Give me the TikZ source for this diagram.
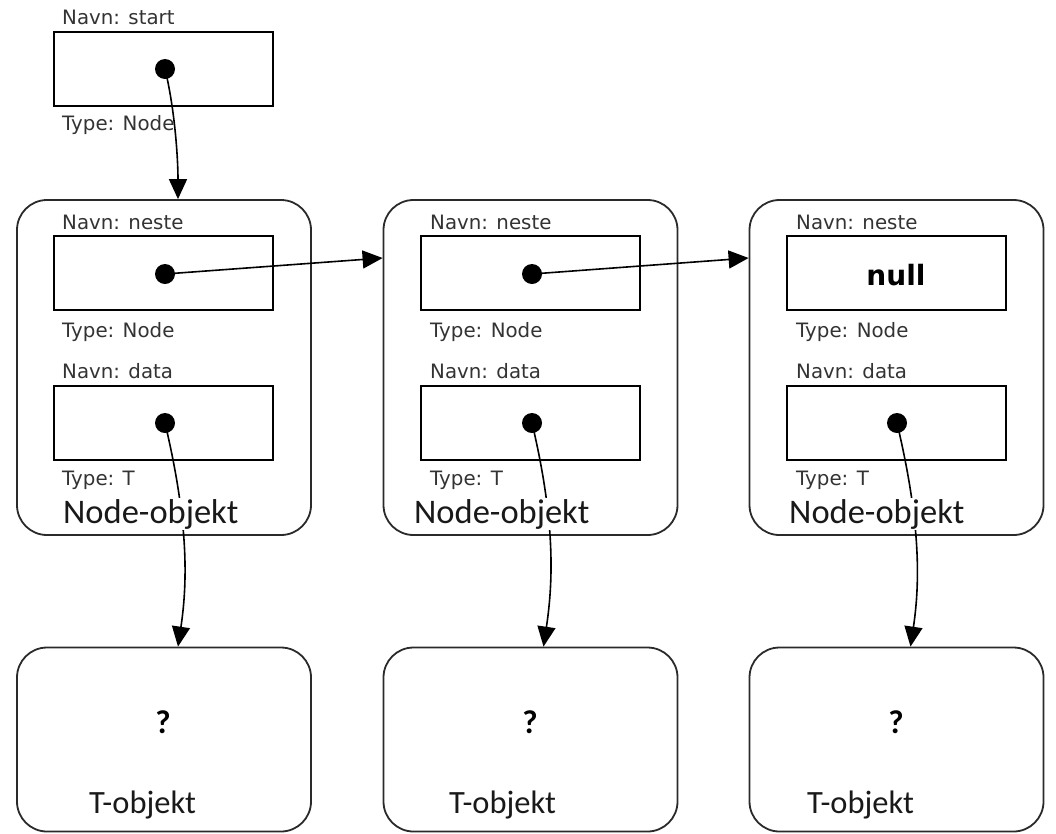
\documentclass[tikz,border=0pt]{standalone}
\usepackage{fontspec}
\setmainfont{DejaVu Sans}
\newfontfamily\carlito{Carlito}
\usetikzlibrary{arrows.meta}
\definecolor{lblgray}{HTML}{333333}
\definecolor{linegray}{HTML}{2A2A2A}
\begin{document}
\begin{tikzpicture}[x=1pt,y=-1pt,
  lbl/.style={anchor=base west, inner sep=0pt, font=\fontsize{19.8}{20}\selectfont, text=lblgray},
  field/.style={draw=black, line width=2pt, minimum width=219pt, minimum height=74pt, inner sep=0pt},
  obj/.style={draw=linegray, line width=1.8pt, rounded corners=30pt, minimum width=294pt, minimum height=335pt, inner sep=0pt},
  tobj/.style={draw=linegray, line width=1.8pt, rounded corners=30pt, minimum width=294pt, minimum height=184pt, inner sep=0pt},
  ptr/.style={circle, fill=black, inner sep=0pt, minimum size=20pt},
  link/.style={draw=black, line width=1.6pt, -{Triangle[length=20pt,width=18pt]}},
  big/.style={font=\carlito\fontsize{34.5}{35}\selectfont, anchor=base west, inner sep=1pt, fill=white, text=black!90},
  tlabel/.style={font=\carlito\fontsize{32.5}{33}\selectfont, anchor=base west, inner sep=1pt, text=black!90},
  qmark/.style={font=\carlito\bfseries\fontsize{33}{33}\selectfont, text=black},
  nulltxt/.style={font=\bfseries\fontsize{28}{28}\selectfont, inner sep=0pt},
]
\useasboundingbox (0,0) rectangle (1056,833);

% start variable
\node[lbl] (ls) at (62,24) {Navn: start};
\node[field] (fs) at (163.5,69) {};
\node[lbl] (lst) at (62,130) {Type: Node};

% node objects
\node[obj] (o1) at (164,367.5) {};
\node[obj] (o2) at (530.5,367.5) {};
\node[obj] (o3) at (896.5,367.5) {};

% fields
\node[field] (n1) at (163.5,273) {};
\node[field] (d1) at (163.5,423) {};
\node[field] (n2) at (530,273) {};
\node[field] (d2) at (530,423) {};
\node[field] (n3) at (896,273) {};
\node[field] (d3) at (896,423) {};

% labels
\foreach \i/\x in {1/62, 2/430, 3/796} {
  \node[lbl] (ln\i) at (\x,229) {Navn: neste};
  \node[lbl] (lt\i) at (\x,337) {Type: Node};
  \node[lbl] (ld\i) at (\x,378) {Navn: data};
  \node[lbl] (ldt\i) at (\x,485) {Type: T};
}

% T objects
\node[tobj] (t1) at (164,739.5) {};
\node[tobj] (t2) at (530.5,739.5) {};
\node[tobj] (t3) at (896.5,739.5) {};
\node[qmark] (q1) at (163,722) {?};
\node[qmark] (q2) at (530,722) {?};
\node[qmark] (q3) at (896,722) {?};
\node[tlabel] (tl1) at (88,813) {T-objekt};
\node[tlabel] (tl2) at (448,813) {T-objekt};
\node[tlabel] (tl3) at (806,813) {T-objekt};

% pointer dots
\node[ptr] (ps) at (165,69) {};
\node[ptr] (pn1) at (165,274) {};
\node[ptr] (pd1) at (165,423) {};
\node[ptr] (pn2) at (532,274) {};
\node[ptr] (pd2) at (532,423) {};
\node[ptr] (pd3) at (897,423) {};
\node[nulltxt] (null) at (896,275) {null};

% connectors
\draw[link] (ps.center) .. controls +(10,41) and +(0,-40) .. ([xshift=14pt]o1.north);
\draw[link] (pn1.center) -- ([yshift=109.5pt]o2.west);
\draw[link] (pn2.center) -- ([yshift=109.5pt]o3.west);
\draw[link] (pd1.center) .. controls +(23,97) and +(10,-67) .. ([xshift=14pt]t1.north);
\draw[link] (pd2.center) .. controls +(23,97) and +(10,-67) .. ([xshift=13pt]t2.north);
\draw[link] (pd3.center) .. controls +(23,97) and +(10,-67) .. ([xshift=14pt]t3.north);

% node-objekt labels (cover the connectors)
\node[big] (ol1) at (62,523) {Node-objekt};
\node[big] (ol2) at (413,523) {Node-objekt};
\node[big] (ol3) at (788,523) {Node-objekt};
\end{tikzpicture}
\end{document}
